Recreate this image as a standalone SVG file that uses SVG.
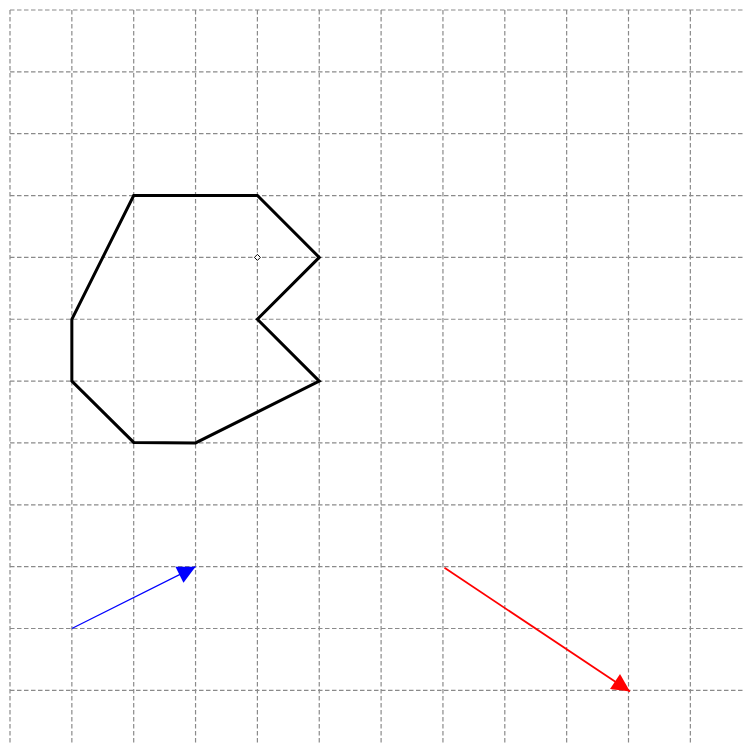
<svg xmlns="http://www.w3.org/2000/svg" width="743" height="744" viewBox="0 0 743 744">
<defs>
<style>
.grid line{stroke:#8a8a8a;stroke-width:1.2;stroke-dasharray:4.5,2.5;fill:none}
.shape{fill:none;stroke:#000;stroke-width:3;stroke-linejoin:miter}
</style>
<marker id="hb" viewBox="0 0 10 10" refX="10" refY="5" markerWidth="22" markerHeight="18" markerUnits="userSpaceOnUse" orient="auto"><path d="M0,0 L10,5 L0,10 Z" fill="#0000ff"/></marker>
<marker id="hr" viewBox="0 0 10 10" refX="10" refY="5" markerWidth="22" markerHeight="18" markerUnits="userSpaceOnUse" orient="auto"><path d="M0,0 L10,5 L0,10 Z" fill="#ff0000"/></marker>
</defs>
<rect width="743" height="744" fill="#fff"/>
<g class="grid" id="grid">
<line x1="10" y1="10" x2="10" y2="744"/>
<line x1="71.85" y1="10" x2="71.85" y2="744"/>
<line x1="133.7" y1="10" x2="133.7" y2="744"/>
<line x1="195.55" y1="10" x2="195.55" y2="744"/>
<line x1="257.4" y1="10" x2="257.4" y2="744"/>
<line x1="319.25" y1="10" x2="319.25" y2="744"/>
<line x1="381.1" y1="10" x2="381.1" y2="744"/>
<line x1="442.95" y1="10" x2="442.95" y2="744"/>
<line x1="504.8" y1="10" x2="504.8" y2="744"/>
<line x1="566.65" y1="10" x2="566.65" y2="744"/>
<line x1="628.5" y1="10" x2="628.5" y2="744"/>
<line x1="690.35" y1="10" x2="690.35" y2="744"/>
<line x1="10" y1="10" x2="743" y2="10"/>
<line x1="10" y1="71.85" x2="743" y2="71.85"/>
<line x1="10" y1="133.7" x2="743" y2="133.7"/>
<line x1="10" y1="195.55" x2="743" y2="195.55"/>
<line x1="10" y1="257.4" x2="743" y2="257.4"/>
<line x1="10" y1="319.25" x2="743" y2="319.25"/>
<line x1="10" y1="381.1" x2="743" y2="381.1"/>
<line x1="10" y1="442.95" x2="743" y2="442.95"/>
<line x1="10" y1="504.8" x2="743" y2="504.8"/>
<line x1="10" y1="566.65" x2="743" y2="566.65"/>
<line x1="10" y1="628.5" x2="743" y2="628.5"/>
<line x1="10" y1="690.35" x2="743" y2="690.35"/>
</g>
<g id="polygon">
<polygon class="shape" points="133.7,195.55 257.4,195.55 319.25,257.4 257.4,319.25 319.25,381.1 195.55,442.95 133.7,442.4 71.85,381.1 71.85,319.25"/>
</g>
<g id="center">
<path d="M257.4,254.4 L260.4,257.4 L257.4,260.4 L254.4,257.4 Z" fill="#fff" stroke="#000" stroke-width="1"/>
</g>
<g id="connectors">
<line x1="71.85" y1="628.5" x2="195.55" y2="566.65" stroke="#0000ff" stroke-width="1.2" marker-end="url(#hb)"/>
<line x1="444.5" y1="567.8" x2="630" y2="691.5" stroke="#ff0000" stroke-width="1.8" marker-end="url(#hr)"/>
</g>
</svg>
